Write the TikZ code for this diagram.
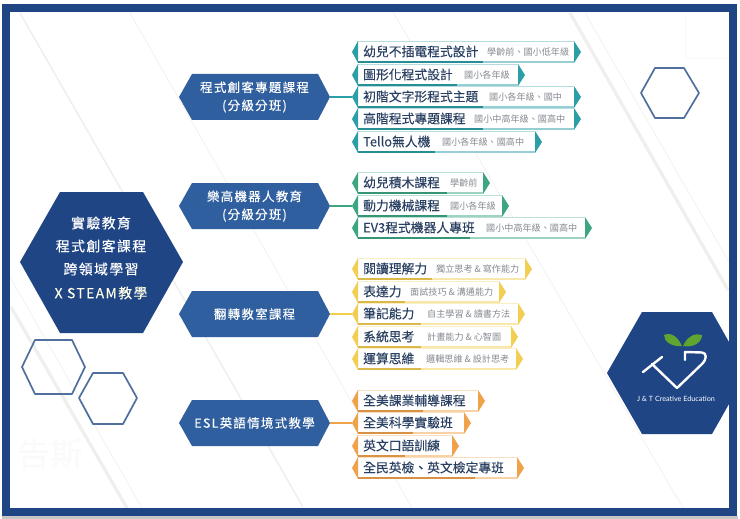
\documentclass[tikz,border=0pt]{standalone}
\usepackage{fontspec}
\setmainfont{Noto Sans CJK TC}
\newfontfamily\spaced[LetterSpace=10,FakeBold=0.08]{Noto Sans CJK TC}
\newfontfamily\heavier[FakeBold=0.1]{Noto Sans CJK TC}
\newfontfamily\logofont{Lato}
\definecolor{navy}{HTML}{1F4585}
\definecolor{midblue}{HTML}{2F5F9E}
\definecolor{ringblue}{HTML}{4F6F9F}
\definecolor{ink}{HTML}{2A4063}
\definecolor{subgray}{HTML}{858A90}
\definecolor{teal}{HTML}{2B9EA6}
\definecolor{grn}{HTML}{3BA681}
\definecolor{yel}{HTML}{F2CE52}
\definecolor{org}{HTML}{F0A24B}
\definecolor{faint}{HTML}{EFEFEC}
\definecolor{leaf}{HTML}{5FA52F}
\tikzset{
  mainlabel/.style={anchor=west,inner sep=0pt,text=ink,font=\heavier\fontsize{12.8}{14}\selectfont},
  sublabel/.style={anchor=west,inner sep=0pt,text=subgray,font=\fontsize{9.1}{10}\selectfont},
  hexlabel/.style={inner sep=0pt,text=white,align=center,font=\spaced\fontsize{12.5}{18}\selectfont},
  biglabel/.style={inner sep=0pt,text=white,font=\spaced\fontsize{13.9}{16}\selectfont},
  ring/.style={draw=ringblue,line width=1.7pt,line join=round},
  feed/.style={line width=1.2pt},
  bgline/.style={draw=faint,line width=.6pt},
  bgmid/.style={draw=faint,line width=1.5pt},
  bgband/.style={draw=faint,line width=3.2pt},
  logoline/.style={draw=white,line width=2.4pt,line cap=round,line join=round}
}
% name, y, body right x, dark bar end x, colour, main text
\newcommand{\pillbase}[6]{%
  \fill[white] (358,#2-11) rectangle (#3,#2+11);
  \draw[#5!35,line width=.4pt] (358,#2-11) -- (#3,#2-11);
  \fill[#5] (352,#2) -- (358,#2-11) -- (358,#2+11) -- cycle;
  \fill[#5] (#3,#2-11) -- (#3+7,#2) -- (#3,#2+11) -- cycle;
  \draw[#5!50,line width=1.6pt] (358,#2+10.2) -- (#3,#2+10.2);
  \draw[#5!90!black,line width=1.6pt] (358,#2+10.2) -- (#4,#2+10.2);
  \coordinate (#1) at (352,#2);
  \node[mainlabel] (#1t) at (363,#2-.5) {#6};
}
% name, y, sub x, sub text
\newcommand{\pillsub}[4]{\node[sublabel] (#1s) at (#3,#2) {#4};}
% name, y centre, text
\newcommand{\hexa}[3]{%
  \fill[midblue] (179,#2) -- (192,#2-23) -- (318,#2-23) -- (330,#2) -- (318,#2+23) -- (192,#2+23) -- cycle;
  \node[hexlabel] (#1) at (254.5,#2) {#3};
  \coordinate (#1r) at (330,#2);
}
\begin{document}
\begin{tikzpicture}[x=1pt,y=-1pt]
\useasboundingbox (0,0) rectangle (740,519);
\fill[white] (0,0) rectangle (740,519);
% background lines
\draw[bgmid] (20,13) -- (303,507);
\draw[bgline] (130,13) -- (412,508);
\draw[bgline] (393,12) -- (683,508);
\draw[bgline] (10,277) -- (142,508);
\draw[bgband] (11,307) -- (127,508);
\draw[bgband] (570,13) -- (728,290);
\draw[bgline] (585,13) -- (729,262);
% watermarks
\draw[gray!5,line width=.4pt] (685,15) -- (685,58) -- (729,58);
\node[inner sep=0pt,text=gray!4,font=\fontsize{33}{35}\selectfont] (wm) at (50,454) {告斯};
% frame
\fill[gray!45] (2,516) rectangle (738,519);
\draw[navy,line width=7.8pt] (5.7,8) rectangle (733,512);
% central hexagon
\fill[navy] (20,262) -- (60,192) -- (143,192) -- (183,262) -- (143,333) -- (60,333) -- cycle;
\node[biglabel] (c1) at (101,223) {實驗教育};
\node[biglabel] (c2) at (101,246) {程式創客課程};
\node[biglabel] (c3) at (101,269) {跨領域學習};
\node[biglabel,text=white!90!yellow] (c4) at (101,293) {X STEAM教學};
% outline hexagons
\draw[ring] (641,93) -- (655,68) -- (684,68) -- (699,93) -- (684,118) -- (655,118) -- cycle;
\draw[ring] (22,367) -- (35,340) -- (72,340) -- (85,367) -- (72,394) -- (35,394) -- cycle;
\draw[ring] (79,398) -- (93,373) -- (123,373) -- (137,398) -- (123,424) -- (93,424) -- cycle;
% logo
\fill[navy] (607,373) -- (642,312) -- (712,312) -- (729,342) -- (729,404) -- (712,434) -- (642,434) -- cycle;
\draw[logoline] (643,372) -- (662,357);
\draw[logoline] (652,364) -- (677,388) -- (702,364) .. controls (707,359) and (707,353) .. (702,352.5) -- (685,352) -- (685,360);
\fill[leaf] (682,346) .. controls (676,333) and (668,333) .. (664,335) .. controls (664,342) and (672,347) .. (682,346) -- cycle;
\fill[leaf] (683,346) .. controls (688,335) and (696,333) .. (702,335) .. controls (702,342) and (694,348) .. (683,346) -- cycle;
\node[inner sep=0pt,text=white,font=\logofont\fontsize{7.2}{8}\selectfont] (logotext) at (676,399) {J \& T Creative Education};
% second level
\hexa{h1}{97}{程式創客專題課程\\(分級分班)}
\hexa{h2}{206}{樂高機器人教育\\(分級分班)}
\hexa{h3}{314}{翻轉教室課程}
\hexa{h4}{423}{ESL英語情境式教學}
% teal
\pillbase{a1}{52}{574}{483}{teal}{幼兒不插電程式設計}\pillsub{a1}{52}{487}{學齡前、國小低年級}
\pillbase{a2}{75}{518}{457}{teal}{圖形化程式設計}\pillsub{a2}{75}{464}{國小各年級}
\pillbase{a3}{97}{574}{483}{teal}{初階文字形程式主題}\pillsub{a3}{97}{489}{國小各年級、國中}
\pillbase{a4}{119}{574}{483}{teal}{高階程式專題課程}\pillsub{a4}{119}{474}{國小中高年級、國高中}
\pillbase{a5}{142}{535}{435}{teal}{Tello無人機}\pillsub{a5}{142}{442}{國小各年級、國高中}
% green
\pillbase{b1}{183}{483}{447}{grn}{幼兒積木課程}\pillsub{b1}{183}{450}{學齡前}
\pillbase{b2}{206}{502}{447}{grn}{動力機械課程}\pillsub{b2}{206}{450}{國小各年級}
\pillbase{b3}{228}{585}{470}{grn}{EV3程式機器人專班}\pillsub{b3}{228}{486}{國小中高年級、國高中}
% yellow
\pillbase{d1}{269}{525}{432}{yel}{閱讀理解力}\pillsub{d1}{269}{436}{獨立思考 \& 寫作能力}
\pillbase{d2}{292}{499}{405}{yel}{表達力}\pillsub{d2}{292}{410}{面試技巧 \& 溝通能力}
\pillbase{d3}{314}{518}{421}{yel}{筆記能力}\pillsub{d3}{314}{427}{自主學習 \& 讀書方法}
\pillbase{d4}{337}{511}{421}{yel}{系統思考}\pillsub{d4}{337}{427}{計畫能力 \& 心智圖}
\pillbase{d5}{359}{516}{421}{yel}{運算思維}\pillsub{d5}{359}{426}{邏輯思維 \& 設計思考}
% orange
\pillbase{e1}{401}{478}{423}{org}{全美課業輔導課程}
\pillbase{e2}{423}{464}{413}{org}{全美科學實驗班}
\pillbase{e3}{446}{452}{405}{org}{英文口語訓練}
\pillbase{e4}{468}{517}{475}{org}{全民英檢、英文檢定專班}
% connectors
\draw[teal,feed] (h1r) -- (a3);
\draw[grn,feed] (h2r) -- (b2);
\draw[yel,feed] (h3r) -- (d3);
\draw[org,feed] (h4r) -- (e2);
\end{tikzpicture}
\end{document}
